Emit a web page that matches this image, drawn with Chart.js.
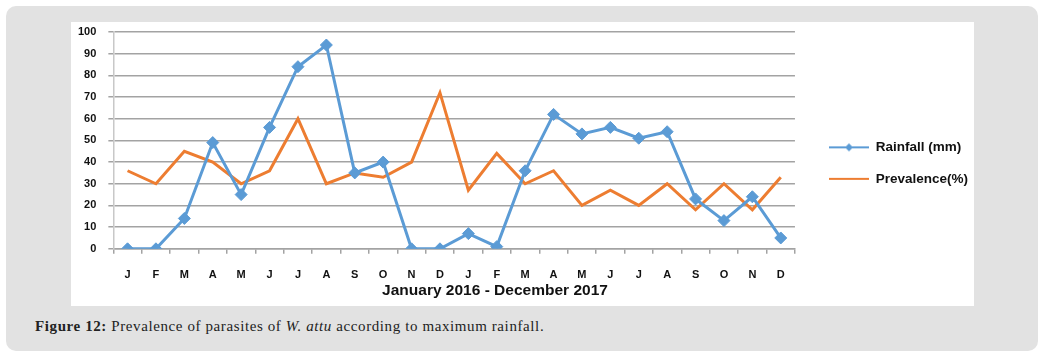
<!DOCTYPE html>
<html>
<head>
<meta charset="utf-8">
<script src="https://cdn.jsdelivr.net/npm/chart.js@4/dist/chart.umd.min.js"></script>
<style>
  html, body { margin: 0; padding: 0; background: #fff; }
  body { width: 1042px; height: 355px; position: relative; overflow: hidden; }
  #frame { position: absolute; left: 6px; top: 6px; width: 1032px; height: 345px; background: #e2e2e2; border-radius: 10px; }
  #box { position: absolute; left: 71px; top: 22px; width: 903px; height: 284px; background: #fff; }
  #xtitle { position: absolute; left: 295px; top: 281px; width: 400px; text-align: center;
    font: bold 15.5px "Liberation Sans", Arial, sans-serif; line-height: 18px; color: #111; }
  #caption { position: absolute; left: 35px; top: 318px; font: 15px "Liberation Serif", "Times New Roman", serif;
    letter-spacing: 0.6px; color: #222; white-space: nowrap; }
</style>
</head>
<body>
<div id="frame"></div>
<div id="box"><canvas id="chart"></canvas></div>
<div id="xtitle">January 2016 - December 2017</div>
<div id="caption"><b>Figure 12:</b> Prevalence of parasites of <i>W. attu</i> according to maximum rainfall.</div>
<script>
const months = ["J", "F", "M", "A", "M", "J", "J", "A", "S", "O", "N", "D",
                "J", "F", "M", "A", "M", "J", "J", "A", "S", "O", "N", "D"];
const rainfall = [0, 0, 14, 49, 25, 56, 84, 94, 35, 40, 0, 0,
                  7, 1, 36, 62, 53, 56, 51, 54, 23, 13, 24, 5];
const prevalence = [36, 30, 45, 40, 30, 36, 60, 30, 35, 33, 40, 72,
                    27, 44, 30, 36, 20, 27, 20, 30, 18, 30, 18, 33];

const blue = "#5b9bd5";
const orange = "#ed7d31";
const gridColor = "#a3a3a3";

// legend icons: line, and for rainfall a small diamond on it
function legendIcon(color, diamond) {
  const c = document.createElement("canvas");
  c.width = 56;
  c.height = 12;
  const g = c.getContext("2d");
  g.strokeStyle = color;
  g.lineWidth = 2;
  g.beginPath();
  g.moveTo(16, 6);
  g.lineTo(56, 6);
  g.stroke();
  if (diamond) {
    g.fillStyle = color;
    g.beginPath();
    g.moveTo(36, 2);
    g.lineTo(40, 6);
    g.lineTo(36, 10);
    g.lineTo(32, 6);
    g.closePath();
    g.fill();
  }
  return c;
}
const icons = [legendIcon(blue, true), legendIcon(orange, false)];

new Chart(document.getElementById("chart").getContext("2d"), {
  type: "line",
  data: {
    labels: months,
    datasets: [
      {
        label: "Rainfall (mm)",
        data: rainfall,
        borderColor: blue,
        backgroundColor: blue,
        borderWidth: 3,
        pointStyle: "rectRot",
        pointRadius: 6,
        pointBorderWidth: 1,
        tension: 0,
      },
      {
        label: "Prevalence(%)",
        data: prevalence,
        borderColor: orange,
        backgroundColor: orange,
        borderWidth: 3,
        pointRadius: 0,
        tension: 0,
      },
    ],
  },
  options: {
    responsive: true,
    maintainAspectRatio: false,
    animation: false,
    events: [],
    layout: { padding: { left: -5, top: 0, right: -4, bottom: 9 } },
    plugins: {
      tooltip: { enabled: false },
      legend: {
        position: "right",
        align: "center",
        title: { display: true, text: " ", font: { size: 1 }, padding: 3 },
        labels: {
          usePointStyle: true,
          pointStyleWidth: 56,
          boxHeight: 12,
          padding: 18,
          color: "#111",
          font: { family: "Liberation Sans", size: 13.5, weight: "bold" },
          generateLabels: (chart) => {
            const items = Chart.defaults.plugins.legend.labels.generateLabels(chart);
            items.forEach((it, i) => { it.pointStyle = icons[i]; });
            return items;
          },
        },
      },
    },
    scales: {
      x: {
        offset: true,
        grid: { offset: true, drawOnChartArea: false, tickLength: 5, color: gridColor, lineWidth: 1.5 },
        border: { display: true, color: gridColor, width: 1.5 },
        ticks: {
          autoSkip: false,
          maxRotation: 0,
          padding: 15,
          color: "#111",
          font: { family: "Liberation Sans", size: 11, weight: "bold" },
        },
      },
      y: {
        min: 0,
        max: 100,
        afterFit: (s) => { s.paddingTop = 10; },
        grid: { color: gridColor, lineWidth: 1.5, tickLength: 5 },
        border: { display: true, color: "#c8c8c8", width: 1.5 },
        ticks: {
          stepSize: 10,
          padding: 12,
          color: "#111",
          font: { family: "Liberation Sans", size: 11, weight: "bold" },
        },
      },
    },
  },
});
</script>
</body>
</html>
